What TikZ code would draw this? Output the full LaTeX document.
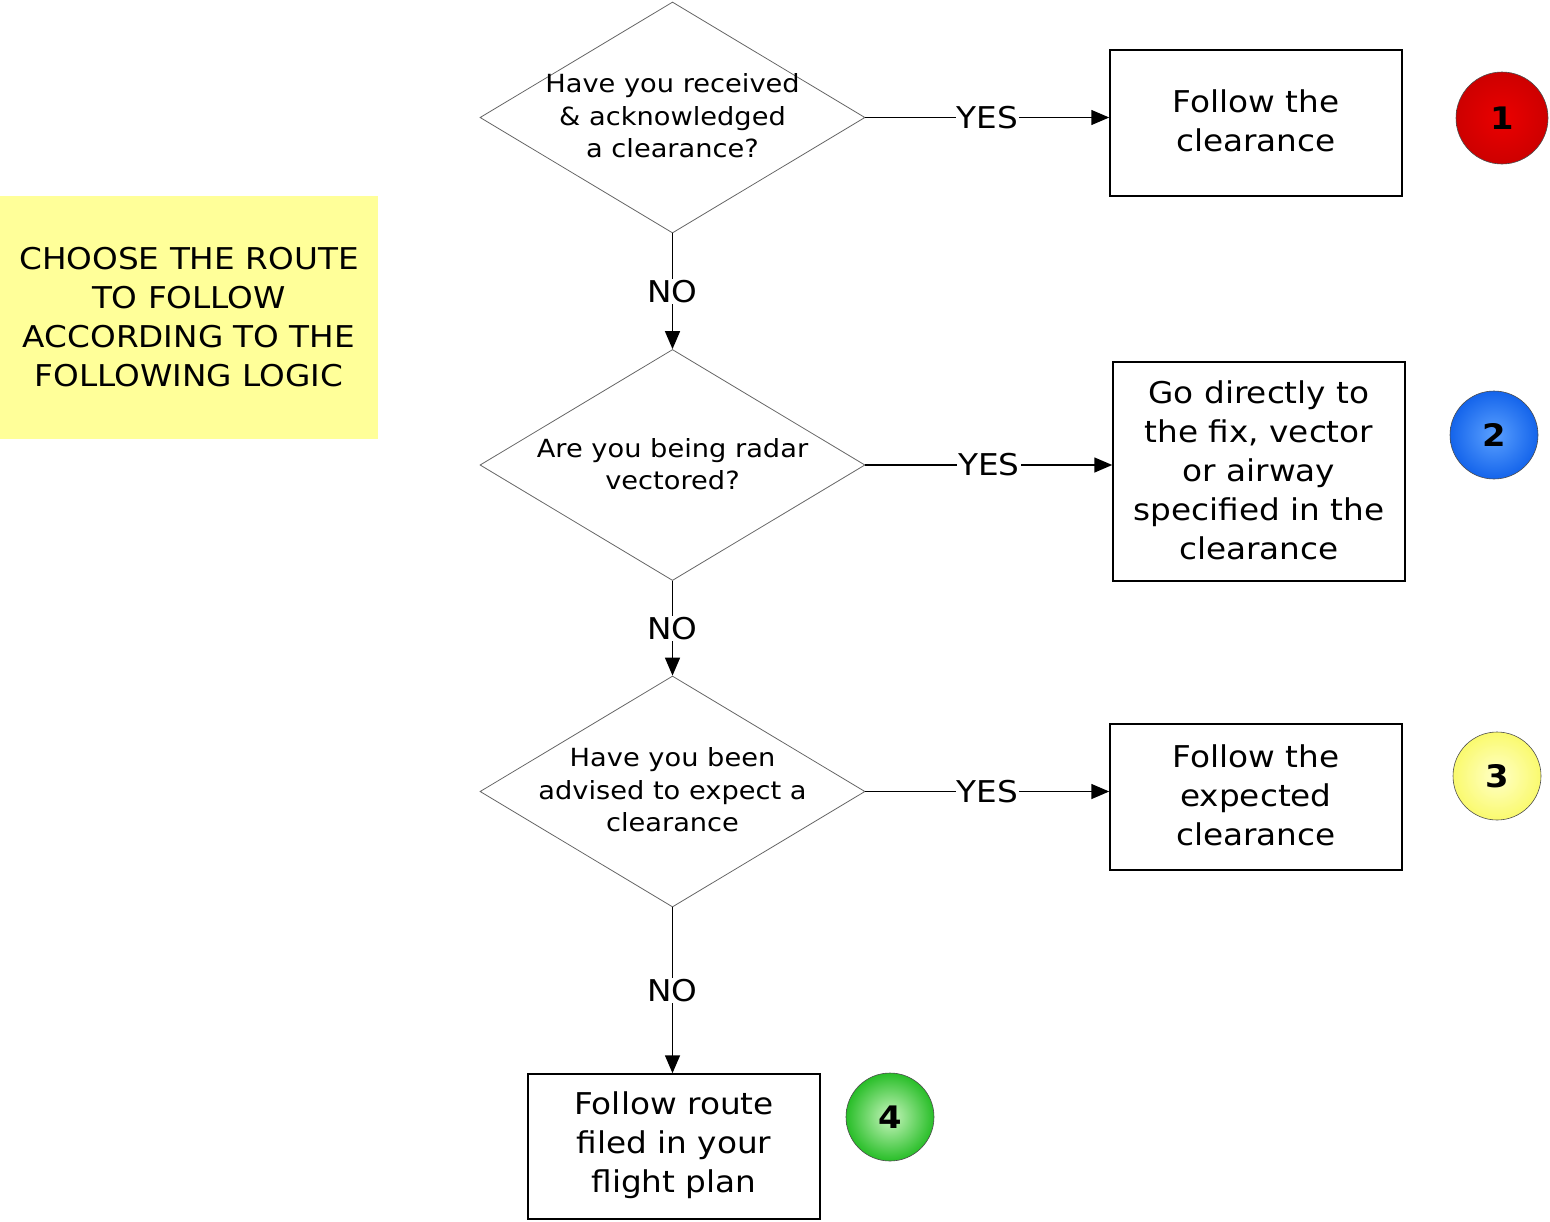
\documentclass[tikz,border=0pt]{standalone}
\usepackage{fontspec}
\setmainfont{DejaVu Sans}[FakeStretch=1.09]
\usetikzlibrary{shapes.geometric,arrows.meta}
\definecolor{notey}{RGB}{255,255,153}
\tikzset{
  x=1pt,y=-1pt,
  dia/.style={draw=black!60,line width=0.8pt,shape=diamond,minimum width=385pt,minimum height=231pt,inner sep=0pt},
  dtext/.style={align=center,font=\fontsize{25}{32.5}\selectfont,inner sep=0pt},
  resbox/.style={draw=black,line width=1.5pt,minimum width=292pt,align=center,font=\fontsize{30}{39}\selectfont,inner sep=0pt},
  conn/.style={line width=1.5pt,-{Triangle[length=18pt,width=15pt]}},
  lab/.style={fill=white,inner sep=1pt,font=\fontsize{30}{36}\selectfont},
  ball/.style={circle,draw=black!70,line width=0.6pt,minimum size=88pt,inner sep=0pt,font=\fontsize{31}{32}\selectfont\bfseries},
}
\begin{document}
\begin{tikzpicture}
\useasboundingbox (0,0) rectangle (1550,1221);
% note
\node[fill=notey,minimum width=378pt,minimum height=243pt,inner sep=0pt,align=center,font=\fontsize{30}{39}\selectfont] (note) at (189,317.5) {CHOOSE THE ROUTE\\TO FOLLOW\\ACCORDING TO THE\\FOLLOWING LOGIC};
% diamonds
\node[dia] (d1) at (672.5,117.5) {};
\node[dtext] (t1) at (672.5,116) {Have you received\\\& acknowledged\\a clearance?};
\node[dia] (d2) at (672.5,465) {};
\node[dtext] (t2) at (672.5,464) {Are you being radar\\vectored?};
\node[dia] (d3) at (672.5,791.5) {};
\node[dtext] (t3) at (672.5,790) {Have you been\\advised to expect a\\clearance};
% result boxes
\node[resbox,minimum height=146pt] (b1) at (1256,123) {};
\node[resbox,draw=none,minimum height=0pt] (l1) at (1256,121) {Follow the\\clearance};
\node[resbox,minimum height=219pt] (b2) at (1259,471.5) {};
\node[resbox,draw=none,minimum height=0pt] (l2) at (1259,470) {Go directly to\\the fix, vector\\or airway\\specified in the\\clearance};
\node[resbox,minimum height=146pt] (b3) at (1256,797) {};
\node[resbox,draw=none,minimum height=0pt] (l3) at (1256,795) {Follow the\\expected\\clearance};
\node[resbox,minimum height=145pt] (b4) at (674,1146.5) {};
\node[resbox,draw=none,minimum height=0pt] (l4) at (674,1145) {Follow route\\filed in your\\flight plan};
% balls
\node[ball,minimum size=92pt,inner color={rgb,255:red,235;green,0;blue,0},outer color={rgb,255:red,205;green,0;blue,0}] (c1) at (1502,118) {1};
\node[ball,inner color={rgb,255:red,90;green,160;blue,255},outer color={rgb,255:red,20;green,100;blue,235}] (c2) at (1494,435) {2};
\node[ball,inner color={rgb,255:red,255;green,255;blue,200},outer color={rgb,255:red,250;green,250;blue,110}] (c3) at (1497,776) {3};
\node[ball,inner color={rgb,255:red,200;green,245;blue,190},outer color={rgb,255:red,40;green,190;blue,40}] (c4) at (890,1117) {4};
% YES connectors
\draw[conn] (d1.east) -- node[lab] {YES} (d1.east -| b1.west);
\draw[conn] (d2.east) -- node[lab] {YES} (d2.east -| b2.west);
\draw[conn] (d3.east) -- node[lab] {YES} (d3.east -| b3.west);
% NO connectors
\draw[conn] (d1.south) -- node[lab] {NO} (d2.north);
\draw[conn] (d2.south) -- node[lab] {NO} (d3.north);
\draw[conn] (d3.south) -- node[lab] {NO} (d3.south |- b4.north);
\end{tikzpicture}
\end{document}
